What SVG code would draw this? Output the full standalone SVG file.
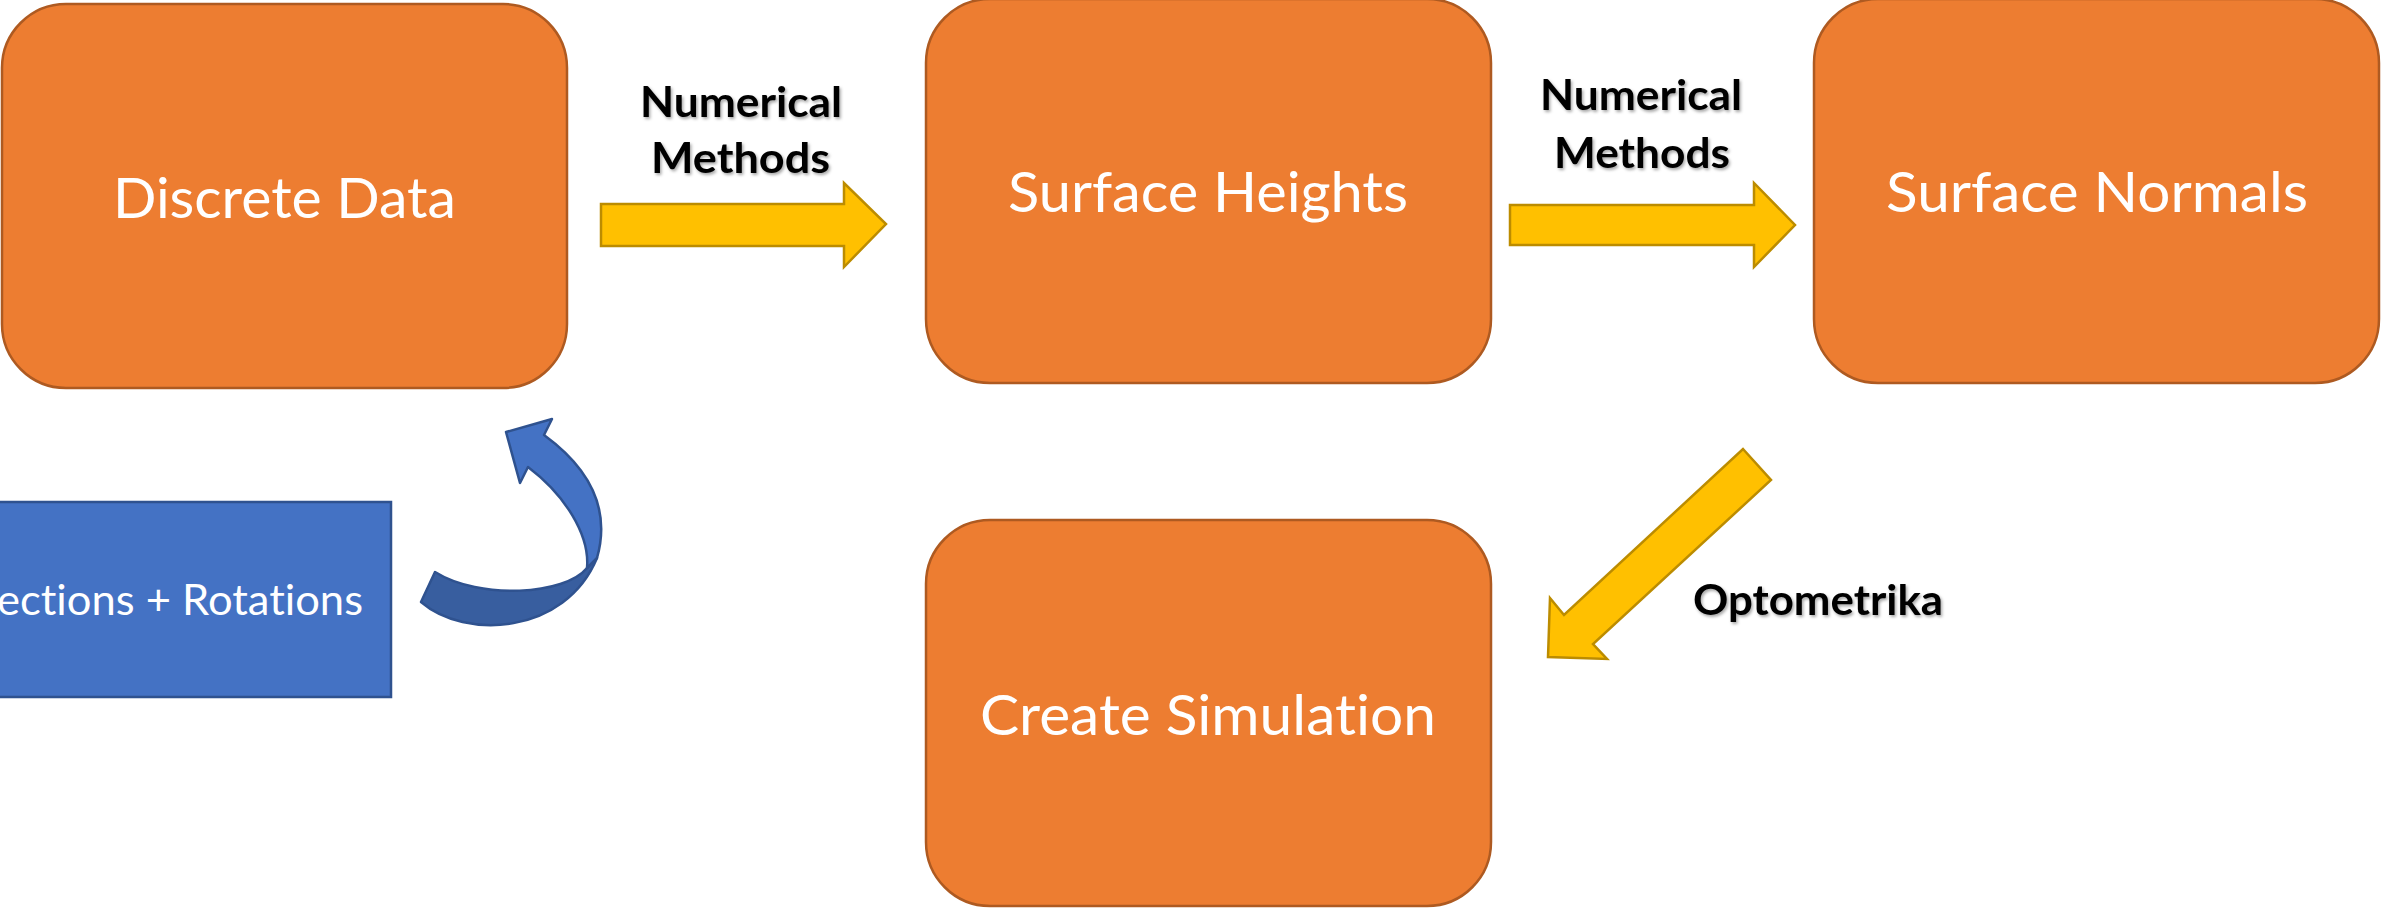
<svg xmlns="http://www.w3.org/2000/svg" width="2382" height="909" viewBox="0 0 2382 909">
<defs>
<filter id="shadow" x="-10%" y="-20%" width="120%" height="140%">
<feDropShadow dx="1.5" dy="2" stdDeviation="1.5" flood-color="#000" flood-opacity="0.35"/>
</filter>
<style>
text{font-variant-ligatures:none;font-feature-settings:"liga" 0}
.box{fill:#ED7D31;stroke:#AE5A21;stroke-width:2.5}
.blue{fill:#4472C4;stroke:#2F528F;stroke-width:2.5}
.big{font-family:Lato,"Open Sans","Noto Sans",sans-serif;font-size:56px;fill:#FFFFFF}
.mid{font-family:Lato,"Open Sans","Noto Sans",sans-serif;font-size:42px;fill:#FFFFFF}
.lbl{font-family:Lato,"Open Sans","Noto Sans",sans-serif;font-size:42px;font-weight:bold;fill:#000000}
.yarrow{fill:#FFC000;stroke:#BC8C00;stroke-width:2.5;stroke-linejoin:miter}
.carrow{stroke:#2F528F;stroke-width:2.5;stroke-linejoin:round}
</style>
</defs>
<rect width="2382" height="909" fill="#FFFFFF"/>

<g id="node-discrete-data">
<rect class="box" x="2" y="4" width="565" height="384" rx="64" ry="64"/>
<text class="big" x="113" y="218" textLength="343" lengthAdjust="spacingAndGlyphs">Discrete Data</text>
</g>

<g id="node-surface-heights">
<rect class="box" x="926" y="-1" width="565" height="384" rx="64" ry="64"/>
<text class="big" x="1008" y="212" textLength="400" lengthAdjust="spacingAndGlyphs">Surface Heights</text>
</g>

<g id="node-surface-normals">
<rect class="box" x="1814" y="-1" width="565" height="384" rx="64" ry="64"/>
<text class="big" x="1886" y="212" textLength="422" lengthAdjust="spacingAndGlyphs">Surface Normals</text>
</g>

<g id="node-create-simulation">
<rect class="box" x="926" y="520" width="565" height="386" rx="64" ry="64"/>
<text class="big" x="980" y="735" textLength="456" lengthAdjust="spacingAndGlyphs">Create Simulation</text>
</g>

<g id="node-rotations">
<rect class="blue" x="-10" y="502" width="401" height="195"/>
<text class="mid" x="-3" y="615" textLength="366" lengthAdjust="spacingAndGlyphs">ections + Rotations</text>
</g>

<g id="connectors">
<polygon class="yarrow" points="601,204 844,204 844,183 886,224 844,267 844,246 601,246"/>
<polygon class="yarrow" points="1510,205 1754,205 1754,183 1795,225 1754,267 1754,245 1510,245"/>
<polygon class="yarrow" points="1743,449 1771,480 1593,644 1607,659 1548,657 1550,598 1564,615"/>
<path class="carrow" fill="#385E9F" d="M 587,568 C 565,595 480,600 435,572 L 421,602 C 465,640 565,635 597,558 Z"/>
<path class="carrow" fill="#4472C4" d="M 528,467 L 520,483 L 506,432 L 552,419 L 544,435 C 585,465 612,505 597,558 L 587,568 C 590,535 565,495 528,467 Z"/>
</g>

<g id="labels">
<g filter="url(#shadow)">
<text class="lbl" x="640" y="117" textLength="202" lengthAdjust="spacingAndGlyphs">Numerical</text>
<text class="lbl" x="651" y="173" textLength="179" lengthAdjust="spacingAndGlyphs">Methods</text>
<text class="lbl" x="1540" y="110" textLength="202" lengthAdjust="spacingAndGlyphs">Numerical</text>
<text class="lbl" x="1554" y="168" textLength="176" lengthAdjust="spacingAndGlyphs">Methods</text>
<text class="lbl" x="1693" y="615" textLength="250" lengthAdjust="spacingAndGlyphs">Optometrika</text>
</g>
</g>
</svg>
